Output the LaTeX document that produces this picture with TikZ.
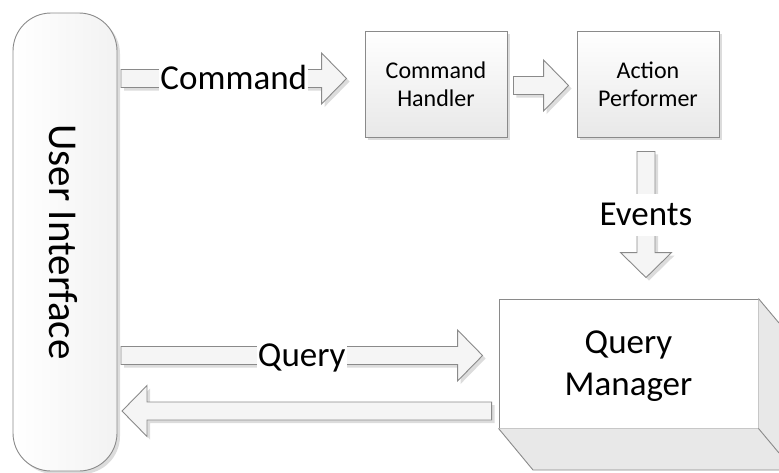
\documentclass[tikz,border=0pt]{standalone}
\usepackage{fontspec}
\setmainfont{Carlito}
\usetikzlibrary{calc,shadows}

\definecolor{edgegray}{HTML}{8A8A8A}
\definecolor{facegray}{HTML}{E8E8E8}
\definecolor{shadegray}{HTML}{DCDCDC}

\tikzset{
  flatshadow/.style={drop shadow={shadow xshift=3pt,shadow yshift=-3pt,fill=shadegray,opacity=1}},
  uibar/.style={draw=edgegray,line width=0.9pt,left color=white,right color=black!5,
    minimum width=104pt,minimum height=458pt,rounded corners=38pt,flatshadow},
  stagebox/.style={draw=edgegray,line width=0.9pt,top color=white,bottom color=black!9,
    minimum width=142pt,minimum height=106pt,align=center,
    font=\fontsize{24}{28}\selectfont,flatshadow},
  storebox/.style={draw=edgegray,line width=0.9pt,fill=white,minimum width=259pt,
    minimum height=129pt,align=center,text depth=0pt,font=\fontsize{35}{42}\selectfont},
  flowlabel/.style={fill=white,inner xsep=1pt,inner ysep=10pt,text height=22pt,
    text depth=0pt,font=\fontsize{35}{40}\selectfont},
  arrowbody/.style={draw=edgegray,line width=0.9pt,fill=black!4,flatshadow},
}

% block arrow from tail #1 to tip #2
\newcommand{\blockarrow}[2]{%
  \coordinate (hb) at ($(#2)!25pt!(#1)$);
  \draw[arrowbody] ($(#1)!9pt!90:(#2)$) -- ($(hb)!9pt!90:(#2)$) -- ($(hb)!25.5pt!90:(#2)$)
    -- (#2) -- ($(hb)!25.5pt!-90:(#2)$) -- ($(hb)!9pt!-90:(#2)$) -- ($(#1)!9pt!-90:(#2)$) -- cycle;}

\begin{document}
\begin{tikzpicture}[x=1pt,y=-1pt]
  \useasboundingbox (0,0) rectangle (779,472);

  \node[uibar] (ui) at (65,242) {};
  \node[rotate=-90,font=\fontsize{41}{41}\selectfont] (uitext) at ([xshift=-2pt]ui.center) {User Interface};

  \node[stagebox] (ch) at (436,84) {Command\\Handler};
  \node[stagebox] (ap) at (648,84) {Action\\Performer};
  \node[storebox] (qm) at (628.5,363.5) {Query\\Manager};

  % sides of the query manager
  \fill[facegray] (qm.north east) -- (779,323) -- (779,453) -- (qm.south east) -- cycle;
  \fill[facegray] (qm.south west) -- (533,470) -- (779,470) -- (779,453) -- (qm.south east) -- cycle;
  \begin{scope}[draw=edgegray,line width=0.9pt]
    \draw (qm.north east) -- (779,323);
    \draw (qm.south east) -- (779,453);
    \draw (qm.south west) -- (533,470) -- (779,470);
  \end{scope}

  % arrow ends
  \coordinate (cmdtail) at (121,78.5);
  \coordinate (cmdtip) at ($(ch.west |- cmdtail)+(-18,0)$);
  \coordinate (acttail) at ($(ch.east)+(6,1.5)$);
  \coordinate (acttip) at ($(ap.west)+(-8,1.5)$);
  \coordinate (evttail) at ($(ap.south)+(-2,14)$);
  \coordinate (evttip) at ($(evttail |- qm.north)+(0,-21)$);
  \coordinate (qrytail) at (121,355.5);
  \coordinate (qrytip) at ($(qm.west |- qrytail)+(-16,0)$);
  \coordinate (rettail) at ($(qm.west)+(-7,47.5)$);
  \coordinate (rettip) at (122,411);

  \blockarrow{cmdtail}{cmdtip}
  \blockarrow{acttail}{acttip}
  \blockarrow{evttail}{evttip}
  \blockarrow{qrytail}{qrytip}
  \blockarrow{rettail}{rettip}

  \node[flowlabel] (cmdlabel) at ($(cmdtail)!0.5!(cmdtip)$) {Command};
  \node[flowlabel] (evtlabel) at ($(evttail)!0.5!(evttip)$) {Events};
  \node[flowlabel] (qrylabel) at ($(qrytail)!0.5!(qrytip)$) {Query};
\end{tikzpicture}
\end{document}
